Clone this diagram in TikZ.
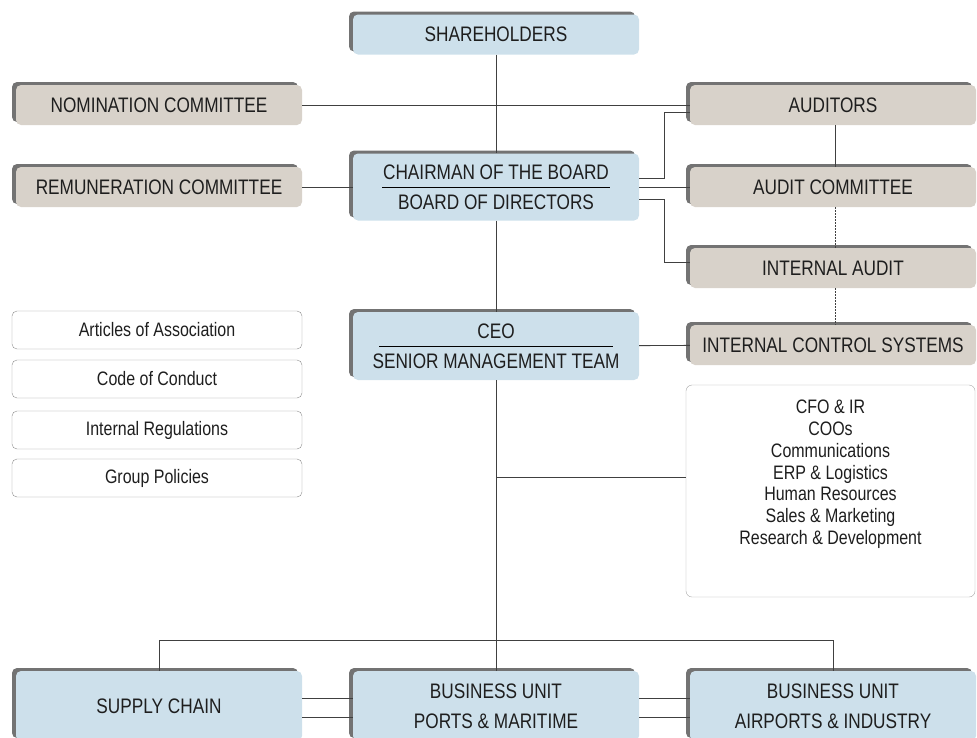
\documentclass[tikz,border=0pt]{standalone}
\usepackage{fontspec}
\setmainfont[FakeStretch=0.82]{Liberation Sans}
\usetikzlibrary{shadows}
\definecolor{boardblue}{RGB}{205,224,235}
\definecolor{auditgrey}{RGB}{216,210,202}
\definecolor{inktext}{RGB}{30,30,30}

\begin{document}
\begin{tikzpicture}[x=1pt, y=-1pt,
    every node/.style={font=\fontsize{21}{30}\selectfont, text=inktext, align=center},
    unit/.style={rounded corners=5pt, minimum width=286pt, minimum height=40pt, inner sep=0pt,
        general shadow={shadow xshift=-4pt, shadow yshift=3pt, fill=black!55}},
    govbox/.style={unit, fill=boardblue},
    ctrlbox/.style={unit, fill=auditgrey},
    docbox/.style={draw=black!45, rounded corners=5pt, minimum width=290pt, minimum height=38pt,
        inner sep=0pt, font=\fontsize{19.5}{21.7}\selectfont},
    link/.style={black!75, line width=0.9pt},
    dotlink/.style={link, dash pattern=on 1.5pt off 1.5pt}]
    \useasboundingbox (0,0) rectangle (977,737);

    % governance column
    \node[govbox] (share) at (496,34.5) {SHAREHOLDERS};
    \node[govbox, minimum height=67pt] (chair) at (496,187) {CHAIRMAN OF THE BOARD\\BOARD OF DIRECTORS};
    \node[govbox, minimum height=68pt] (ceo) at (496,346) {CEO\\SENIOR MANAGEMENT TEAM};
    \draw[black, line width=0.8pt] ([xshift=-114pt]chair.center) -- ([xshift=114pt]chair.center);
    \draw[black, line width=0.8pt] ([xshift=-117pt]ceo.center) -- ([xshift=117pt]ceo.center);

    % committees
    \node[ctrlbox] (nomin) at (159,105) {NOMINATION COMMITTEE};
    \node[ctrlbox] (remun) at (159,187) {REMUNERATION COMMITTEE};
    \node[ctrlbox] (auditors) at (833,105) {AUDITORS};
    \node[ctrlbox] (auditcom) at (833,187) {AUDIT COMMITTEE};
    \node[ctrlbox] (intaudit) at (833,268) {INTERNAL AUDIT};
    \node[ctrlbox] (ics) at (833,345) {INTERNAL CONTROL SYSTEMS};

    % rules and policies
    \node[docbox] (articles) at (157,330) {Articles of Association};
    \node[docbox] (conduct) at (157,379) {Code of Conduct};
    \node[docbox] (regul) at (157,430) {Internal Regulations};
    \node[docbox] (policies) at (157,478) {Group Policies};

    % staff functions
    \node[draw=black!35, rounded corners=6pt, minimum width=289pt, minimum height=212pt] (staff) at (830.5,491) {};
    \node[anchor=north, font=\fontsize{19.5}{21.7}\selectfont] (stafflist) at ([yshift=-12pt]staff.north)
        {CFO \& IR\\COOs\\Communications\\ERP \& Logistics\\Human Resources\\Sales \& Marketing\\Research \& Development};

    % business units
    \node[govbox, minimum height=70pt] (supply) at (159,706) {SUPPLY CHAIN};
    \node[govbox, minimum height=70pt] (ports) at (496,706) {BUSINESS UNIT\\PORTS \& MARITIME};
    \node[govbox, minimum height=70pt] (airports) at (833,706) {BUSINESS UNIT\\AIRPORTS \& INDUSTRY};

    % connectors
    \coordinate (tap) at (496,477);
    \coordinate (bus) at (496,640);
    \draw[link] (share) -- (chair);
    \draw[link] (chair) -- (ceo);
    \draw[link] (ceo) -- (ports);
    \draw[link] (nomin) -- (auditors);
    \draw[link] (remun) -- (chair);
    \draw[link] (chair) -- (auditcom);
    \draw[link] ([yshift=8.5pt]chair.east) -- ++(25,0) |- ([yshift=-7pt]auditors.west);
    \draw[link] ([yshift=-12.5pt]chair.east) -- ++(25,0) |- ([yshift=6pt]intaudit.west);
    \draw[link] ([xshift=2pt]auditors.south) -- ([xshift=2pt]auditcom.north);
    \draw[dotlink] ([xshift=2pt]auditcom.south) -- ([xshift=2pt]intaudit.north);
    \draw[dotlink] ([xshift=2pt]intaudit.south) -- ([xshift=2pt]ics.north);
    \draw[link] (ceo) -- (ics);
    \draw[link] (tap) -- (tap -| staff.west);
    \draw[link] (supply.north) |- (bus) -| (airports.north);
    \draw[link] ([yshift=8pt]supply.east) -- ([yshift=8pt]ports.west);
    \draw[link] ([yshift=-11pt]supply.east) -- ([yshift=-11pt]ports.west);
    \draw[link] ([yshift=8pt]ports.east) -- ([yshift=8pt]airports.west);
    \draw[link] ([yshift=-11pt]ports.east) -- ([yshift=-11pt]airports.west);
\end{tikzpicture}
\end{document}
